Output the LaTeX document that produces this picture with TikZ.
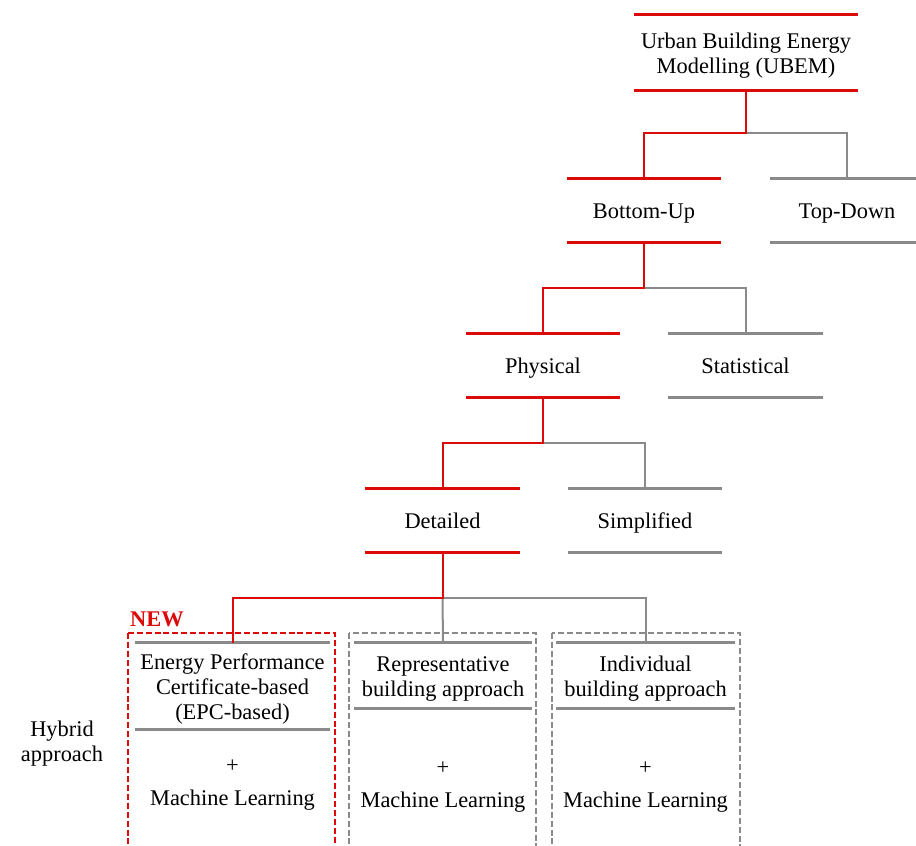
\documentclass[tikz,border=0pt]{standalone}
\usepackage{fontspec}
\setmainfont{Liberation Serif}
\usetikzlibrary{calc}
\definecolor{cred}{HTML}{DD0A0A}
\definecolor{cgrey}{HTML}{8A8A8A}
\newcommand{\topstrut}{\rule{0pt}{16.8pt}}
\tikzset{
  every picture/.style={x=0.75pt, y=-0.75pt},
  lvl/.style={minimum width=#1, minimum height=47.25pt, inner sep=0pt, align=center,
              font=\fontsize{16.8}{18.8}\selectfont},
  lvl/.default=115.5pt,
  one/.style={text height=12pt, text depth=0.4pt},
  rule/.style={draw=#1, line width=2pt},
  link/.style={draw=#1, line width=1.5pt},
  frame/.style={draw=#1, line width=1.8pt, dash pattern=on 4.5pt off 2.2pt},
  txt/.style={align=center, inner sep=0pt, font=\fontsize{16.8}{18.8}\selectfont},
}
\begin{document}
\begin{tikzpicture}
  \clip (0,0) rectangle (916,845);
  % tree levels
  \node[lvl=168pt, minimum height=56.25pt] (ubem) at (746,52.5) {\topstrut Urban Building Energy\\Modelling (UBEM)};
  \node[lvl, one] (bu) at (644,210.5) {Bottom-Up};
  \node[lvl, one] (td) at (847,210.5) {Top-Down};
  \node[lvl, one] (phys) at (543,365.5) {Physical};
  \node[lvl, one] (stat) at (745.5,365.5) {Statistical};
  \node[lvl, one] (det) at (442.5,520.5) {Detailed};
  \node[lvl, one] (simp) at (645,520.5) {Simplified};
  % hybrid approaches
  \node[lvl=146.25pt, minimum height=64.5pt] (epc) at (232.5,686) {\topstrut Energy Performance\\Certificate-based\\(EPC-based)};
  \node[lvl=133.5pt, minimum height=48.75pt] (rep) at (443,675.5) {\topstrut Representative\\building approach};
  \node[lvl=134.25pt, minimum height=48.75pt] (ind) at (645.5,675.5) {\topstrut Individual\\building approach};
  \node[txt] (ml1) at (232.5,785) {+\\[6.5pt]Machine Learning};
  \node[txt] (ml2) at (443,787) {+\\[6.5pt]Machine Learning};
  \node[txt] (ml3) at (645.5,787) {+\\[6.5pt]Machine Learning};
  \foreach \n/\c in {ubem/cred, bu/cred, td/cgrey, phys/cred, stat/cgrey, det/cred, simp/cgrey,
                     epc/cgrey, rep/cgrey, ind/cgrey}
    \draw[rule=\c] (\n.north west) -- (\n.north east) (\n.south west) -- (\n.south east);
  % dashed frames
  \draw[frame=cred] (128,633) rectangle (335,880);
  \draw[frame=cgrey] (349,633) rectangle (536,880);
  \draw[frame=cgrey] (552,633) rectangle (740,880);
  \node[txt, text=cred, font=\fontsize{16.8}{18.8}\selectfont\bfseries] (new) at (157,619) {NEW};
  \node[txt] (hyb) at (62,744) {Hybrid\\approach};
  % connectors
  \coordinate (j1) at (746,133);
  \coordinate (j2) at (644,288);
  \coordinate (j3) at (543,443);
  \coordinate (j4) at (442.5,598);
  \draw[link=cgrey] (j1) -| (td.north);
  \draw[link=cred] (ubem.south) -- (j1) -| (bu.north);
  \draw[link=cgrey] (j2) -| (stat.north);
  \draw[link=cred] (bu.south) -- (j2) -| (phys.north);
  \draw[link=cgrey] (j3) -| (simp.north);
  \draw[link=cred] (phys.south) -- (j3) -| (det.north);
  \draw[link=cgrey] (j4) -| (ind.north);
  \draw[link=cgrey] (j4) -- (rep.north);
  \draw[link=cred] (det.south) -- (j4) -| (epc.north);
\end{tikzpicture}
\end{document}
